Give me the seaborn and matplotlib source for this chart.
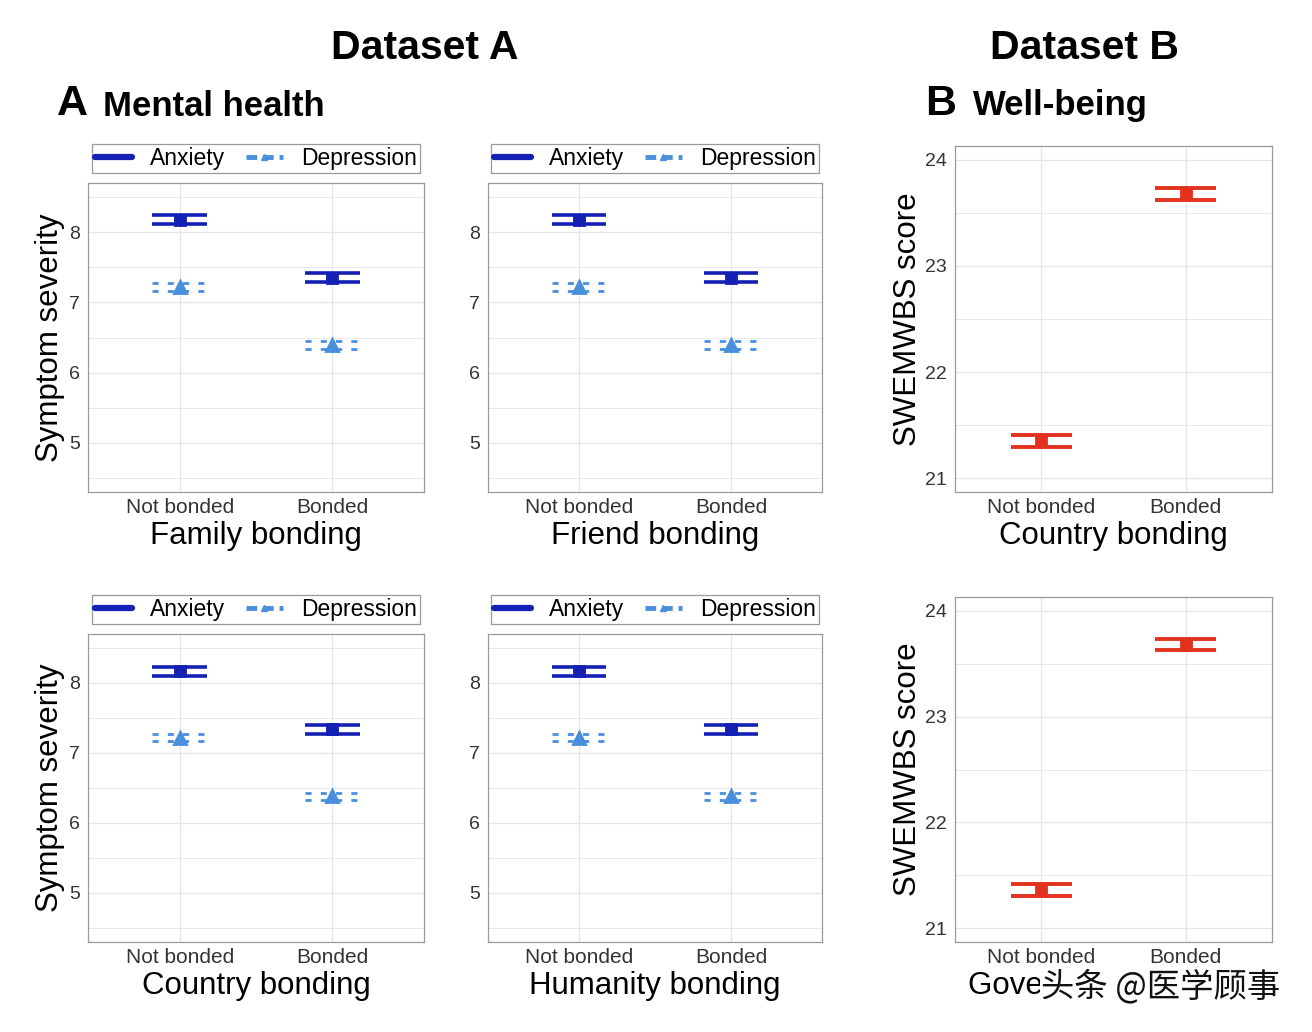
import numpy as np
import pandas as pd
import seaborn as sns
import matplotlib.pyplot as plt
from matplotlib.lines import Line2D
from matplotlib.ticker import MultipleLocator

W, H = 1312, 1032

# ---- data ----
groups = ["Not bonded", "Bonded"]

panels_a = ["Family bonding", "Friend bonding", "Country bonding", "Humanity bonding"]
anxiety_mean = [[8.18, 7.35], [8.18, 7.35], [8.17, 7.34], [8.17, 7.34]]
anxiety_err = [[0.065, 0.065], [0.065, 0.065], [0.065, 0.065], [0.065, 0.065]]
depression_mean = [[7.22, 6.39], [7.22, 6.39], [7.22, 6.38], [7.22, 6.38]]
depression_err = [[0.055, 0.055], [0.055, 0.055], [0.055, 0.055], [0.055, 0.055]]

panels_b = ["Country bonding", "Government bonding"]
wellbeing_mean = [[21.35, 23.68], [21.36, 23.68]]
wellbeing_err = [[0.055, 0.055], [0.055, 0.055]]

anx_color = "#1420b4"
dep_color = "#4a8fdc"
wb_color = "#e2321f"
grid_color = "#e1e6ee"
spine_color = "#9a9a9a"

sns.set_theme(style="whitegrid")
plt.rcParams["font.family"] = ["Liberation Sans", "DejaVu Sans"]
plt.rcParams["text.color"] = "black"

fig = plt.figure(figsize=(W / 100, H / 100), dpi=100)
fig.patch.set_facecolor("white")


def px_rect(x0, y0, x1, y1):
    return [x0 / W, 1 - y1 / H, (x1 - x0) / W, (y1 - y0) / H]


def style_axis(ax, ylim, major):
    ax.set_xlim(-0.6, 1.6)
    ax.set_ylim(*ylim)
    ax.yaxis.set_major_locator(MultipleLocator(major))
    ax.yaxis.set_minor_locator(MultipleLocator(major / 2))
    ax.set_facecolor("white")
    ax.grid(True, which="major", color=grid_color, lw=0.9)
    ax.grid(True, which="minor", axis="y", color=grid_color, lw=0.6)
    ax.set_axisbelow(True)
    for s in ax.spines.values():
        s.set_color(spine_color)
        s.set_linewidth(0.9)
        s.set_visible(True)
    ax.tick_params(which="major", length=3, width=0.8, color="#888888",
                   labelcolor="#333333", pad=2)
    ax.tick_params(which="minor", length=0)
    ax.tick_params(axis="x", labelsize=15, pad=1)
    ax.tick_params(axis="y", labelsize=14, pad=3)


def draw_series(ax, means, errs, color, marker, msize, half, cap_lw, cap_ls, v_lw):
    df = pd.DataFrame({"group": groups, "value": means})
    sns.pointplot(data=df, x="group", y="value", order=groups, color=color,
                  marker=marker, markersize=msize, linestyle="none",
                  errorbar=None, ax=ax, zorder=4)
    pos = np.arange(len(groups))
    lo = np.array(means) - np.array(errs)
    hi = np.array(means) + np.array(errs)
    ax.vlines(pos, lo, hi, color=color, lw=v_lw, zorder=3)
    ax.hlines(lo, pos - half, pos + half, color=color, lw=cap_lw,
              linestyles=cap_ls, zorder=3)
    ax.hlines(hi, pos - half, pos + half, color=color, lw=cap_lw,
              linestyles=cap_ls, zorder=3)


boxes_a = [(88, 183, 424, 492), (488, 183, 822, 492),
           (88, 634, 424, 942), (488, 634, 822, 942)]

legend_handles = [
    Line2D([0], [0], color=anx_color, lw=4.5),
    Line2D([0], [0], color=dep_color, lw=3.5, ls=(0, (2.2, 1.2)),
           marker="^", markersize=4.5),
]

for i, (box, name) in enumerate(zip(boxes_a, panels_a)):
    ax = fig.add_axes(px_rect(*box))
    draw_series(ax, anxiety_mean[i], anxiety_err[i], anx_color, "s", 6.5,
                0.18, 2.6, "solid", 7.5)
    draw_series(ax, depression_mean[i], depression_err[i], dep_color, "^", 8,
                0.18, 2.0, (0, (2.2, 3.3)), 1.5)
    style_axis(ax, (4.3, 8.7), 1)
    ax.set_xlabel(name, fontsize=22.5, color="black", labelpad=3)
    if box[0] < 400:
        ax.set_ylabel("Symptom severity", fontsize=22.5, color="black")
        ax.yaxis.set_label_coords(-0.068, 0.5)
    else:
        ax.set_ylabel("")
    leg = ax.legend(legend_handles, ["Anxiety", "Depression"], ncol=2,
                    loc="lower center", bbox_to_anchor=(0.5, 1.033),
                    fontsize=16.5, frameon=True, fancybox=False,
                    edgecolor="#999999", framealpha=1, borderpad=0.12,
                    handlelength=1.6, handletextpad=0.8, columnspacing=0.9,
                    borderaxespad=0)
    leg.get_frame().set_linewidth(0.9)

boxes_b = [(955, 146, 1272, 492), (955, 597, 1272, 942)]
for i, (box, name) in enumerate(zip(boxes_b, panels_b)):
    ax = fig.add_axes(px_rect(*box))
    draw_series(ax, wellbeing_mean[i], wellbeing_err[i], wb_color, "s", 6.5,
                0.21, 2.8, "solid", 7)
    style_axis(ax, (20.87, 24.13), 1)
    ax.set_xlabel(name, fontsize=22.5, color="black", labelpad=3)
    ax.set_ylabel("SWEMWBS score", fontsize=22.5, color="black")
    ax.yaxis.set_label_coords(-0.1, 0.5)

# headers
fig.text(425 / W, 1 - 48 / H, "Dataset A", fontsize=29.5, fontweight="bold",
         ha="center", va="center")
fig.text(1085 / W, 1 - 48 / H, "Dataset B", fontsize=29.5, fontweight="bold",
         ha="center", va="center")
fig.text(57 / W, 1 - 104 / H, "A", fontsize=31, fontweight="bold",
         ha="left", va="center")
fig.text(103 / W, 1 - 106 / H, "Mental health", fontsize=25, fontweight="bold",
         ha="left", va="center")
fig.text(925 / W, 1 - 104 / H, "B", fontsize=31, fontweight="bold",
         ha="left", va="center")
fig.text(973 / W, 1 - 106 / H, "Well-being", fontsize=25, fontweight="bold",
         ha="left", va="center")

# watermark over the last axis title
fig.text(1041 / W, 1 - 987 / H, "头条 @医学顾事", fontsize=24,
         family=["Noto Sans CJK SC", "DejaVu Sans"], color="#111111",
         ha="left", va="center",
         bbox=dict(facecolor="white", edgecolor="none", pad=0.5))

fig.savefig("out.png", dpi=100, facecolor="white")
